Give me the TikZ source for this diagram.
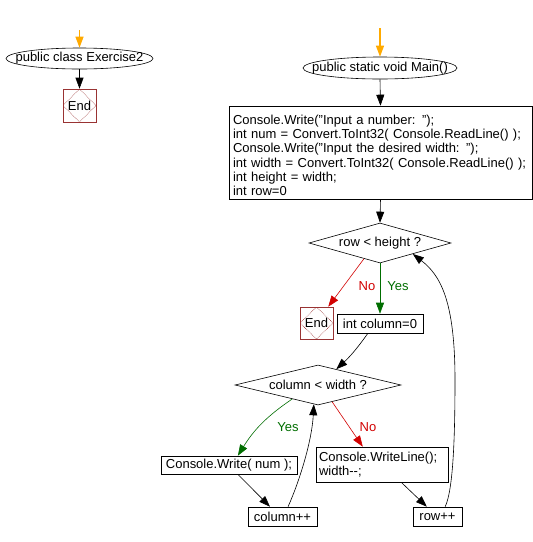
\documentclass[tikz,border=0pt]{standalone}
\usepackage{fontspec}
\setmainfont{Liberation Sans}
\usetikzlibrary{shapes.geometric,arrows.meta,calc}
\definecolor{endred}{RGB}{153,51,51}
\definecolor{yesgreen}{RGB}{0,110,0}
\definecolor{nored}{RGB}{210,0,0}
\definecolor{startor}{RGB}{255,170,0}
\begin{document}
\begin{tikzpicture}[x=1pt,y=-1pt,
  every node/.style={font=\fontsize{13}{14.2}\selectfont, inner sep=0pt},
  tip/.style={-{Triangle[length=11pt,width=8pt]}},
  conn/.style={draw=black, line width=0.6pt, tip},
  yesconn/.style={draw=yesgreen, line width=0.6pt, tip},
  noconn/.style={draw=nored, line width=0.6pt, tip},
  startarrow/.style={draw=startor, line width=1.2pt, tip},
  term/.style={ellipse, draw, line width=0.6pt},
  proc/.style={rectangle, draw, line width=0.6pt},
  dec/.style={diamond, draw, line width=0.6pt},
  endbox/.style={rectangle, draw=endred, line width=0.6pt, minimum width=33pt, minimum height=33pt,
    path picture={\draw[endred, densely dotted, line width=0.6pt] (path picture bounding box.north) -- (path picture bounding box.east) -- (path picture bounding box.south) -- (path picture bounding box.west) -- cycle;}},
  yeslabel/.style={text=yesgreen},
  nolabel/.style={text=nored}
]
\useasboundingbox (0,0) rectangle (533,542);
\fill[white] (0,0) rectangle (533,542);

% left part
\coordinate (s1) at (79.5,30);
\node[term, minimum width=147pt, minimum height=21pt] (ell1) at (79.5,58.5) {\makebox[0pt]{public class Exercise2}};
\node[endbox] (end1) at (79.5,105.5) {End};
\draw[startarrow] (s1) -- (ell1.north);
\draw[conn] (ell1.south) -- (end1.north);

% right part
\coordinate (s2) at (380,28);
\node[term, minimum width=154pt, minimum height=22pt] (ell2) at (380,68) {\makebox[0pt]{public static void Main()}};
\node[proc, minimum width=303pt, minimum height=93pt, text width=295pt, inner xsep=4pt, align=left] (box1) at (380.5,152.5)
 {\rule{0pt}{15.3pt}Console.Write("Input a number: ");\\
  int num = Convert.ToInt32( Console.ReadLine() );\\
  Console.Write("Input the desired width: ");\\
  int width = Convert.ToInt32( Console.ReadLine() );\\
  int height = width;\\
  int row=0};
\node[dec, aspect=3.55, minimum width=142pt, minimum height=40pt] (dia1) at (380,243) {row < height ?};
\node[endbox, minimum height=32pt] (end2) at (316.5,323) {End};
\node[proc, minimum width=86pt, minimum height=19pt] (col0) at (380,323.5) {int column=0};
\node[dec, aspect=4.15, minimum width=166pt, minimum height=40pt] (dia2) at (318,385) {column < width ?};
\node[proc, minimum width=136pt, minimum height=18pt] (cw) at (229,465) {Console.Write( num );};
\node[proc, minimum width=132pt, minimum height=35pt, text width=126pt, inner xsep=3pt, align=left] (wl) at (382,464.5)
 {Console.WriteLine();\\ width-{}-;};
\node[proc, minimum width=69pt, minimum height=19pt] (colpp) at (282.5,516.5) {column++};
\node[proc, minimum width=49pt, minimum height=19pt] (rowpp) at (437.5,516.5) {row++};

\node[yeslabel] (yes1) at (398,286) {Yes};
\node[nolabel] (no1) at (367,286) {No};
\node[yeslabel] (yes2) at (288,427) {Yes};
\node[nolabel] (no2) at (368,427) {No};

\draw[startarrow] (s2) -- (ell2.north);
\draw[conn] (ell2.south) -- (box1.north);
\draw[conn] (box1.south) -- (dia1.north);
\draw[yesconn] (dia1.south) -- (col0.north);
\draw[noconn] ($(dia1.south)!0.225!(dia1.west)$) -- ($(end2.north)!0.7!(end2.north east)$);
\draw[conn] ($(col0.south)!0.28!(col0.south west)$) to[bend left=6] ($(dia2.north)!0.22!(dia2.east)$);
\draw[yesconn] ($(dia2.south)!0.31!(dia2.west)$) to[bend right=12] ($(cw.north)!0.13!(cw.north east)$);
\draw[noconn] ($(dia2.south)!0.17!(dia2.east)$) -- ($(wl.north)!0.29!(wl.north west)$);
\draw[conn] ($(cw.south)!0.13!(cw.south east)$) -- ($(colpp.north)!0.36!(colpp.north west)$);
\draw[conn] ($(wl.south)!0.29!(wl.south east)$) -- ($(rowpp.north)!0.43!(rowpp.north west)$);
\draw[conn] ($(colpp.north)!0.16!(colpp.north east)$) .. controls (300,480) and (312,440) .. ($(dia2.south)!0.05!(dia2.west)$);
\coordinate (up) at (455,380);
\draw[conn] ($(rowpp.north)!0.31!(rowpp.north east)$) .. controls (453,490) and (455,440) .. (up) .. controls (455,300) and (440,275) .. ($(dia1.south)!0.46!(dia1.east)$);
\end{tikzpicture}
\end{document}
